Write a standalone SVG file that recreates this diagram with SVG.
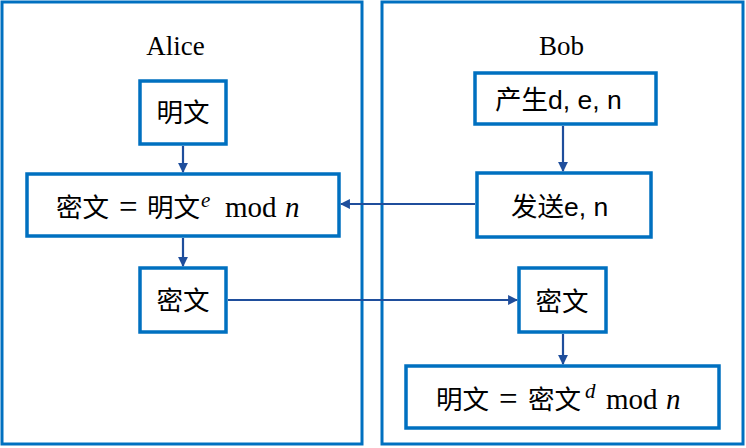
<svg xmlns="http://www.w3.org/2000/svg" width="746" height="448" viewBox="0 0 746 448">
<defs>
<style>
.frame{fill:#fff;stroke:#0070C0;stroke-width:3}
.box{fill:#fff;stroke:#0070C0;stroke-width:3.5}
.cjk{font-family:"Noto Sans CJK SC","Liberation Sans",sans-serif;font-size:26.5px;fill:#000}
.lat{font-family:"Liberation Sans","Noto Sans CJK SC",sans-serif;font-size:26.5px;fill:#000}
.ser{font-family:"Liberation Serif",serif;fill:#000}
.it{font-style:italic}
.conn{stroke:#1F4E9C;stroke-width:2.2;fill:none;marker-end:url(#ah)}
</style>
<marker id="ah" viewBox="0 0 10 10" refX="9" refY="5" markerWidth="4.5" markerHeight="4.5" orient="auto" markerUnits="strokeWidth">
<path d="M0,0 L10,5 L0,10 Z" fill="#1F4E9C"/>
</marker>
</defs>
<rect width="746" height="448" fill="#fff"/>
<g id="alice">
<rect class="frame" x="2" y="2" width="360" height="442"/>
<text class="ser" x="175.5" y="55" font-size="27" text-anchor="middle">Alice</text>
</g>
<g id="bob">
<rect class="frame" x="382" y="2" width="361" height="442"/>
<text class="ser" x="561.5" y="55" font-size="27" text-anchor="middle">Bob</text>
</g>
<g id="alice-plain">
<rect class="box" x="140" y="81" width="86" height="63"/>
<text class="cjk" x="183" y="122" text-anchor="middle">明文</text>
</g>
<g id="alice-encrypt">
<rect class="box" x="27" y="174" width="312" height="62"/>
<text y="217"><tspan class="cjk" x="56">密文</tspan><tspan class="ser" x="119" y="218" font-size="33">=</tspan><tspan class="cjk" x="147" y="217">明文</tspan><tspan class="ser it" x="201" y="207" font-size="21">e</tspan><tspan class="ser" x="225" y="217" font-size="29">mod</tspan><tspan class="ser it" x="285" font-size="29">n</tspan></text>
</g>
<g id="alice-cipher">
<rect class="box" x="140" y="268" width="86" height="64"/>
<text class="cjk" x="183" y="310" text-anchor="middle">密文</text>
</g>
<g id="bob-gen">
<rect class="box" x="475" y="73" width="181" height="51"/>
<text y="109"><tspan class="cjk" x="495">产生</tspan><tspan class="lat">d, e, n</tspan></text>
</g>
<g id="bob-send">
<rect class="box" x="477" y="173" width="174" height="64"/>
<text y="216"><tspan class="cjk" x="511">发送</tspan><tspan class="lat">e, n</tspan></text>
</g>
<g id="bob-cipher">
<rect class="box" x="519" y="268" width="87" height="64"/>
<text class="cjk" x="562" y="311" text-anchor="middle">密文</text>
</g>
<g id="bob-decrypt">
<rect class="box" x="406" y="366" width="313" height="62"/>
<text y="409"><tspan class="cjk" x="436">明文</tspan><tspan class="ser" x="499" y="410" font-size="33">=</tspan><tspan class="cjk" x="528" y="409">密文</tspan><tspan class="ser it" x="585" y="398" font-size="21">d</tspan><tspan class="ser" x="606" y="409" font-size="29">mod</tspan><tspan class="ser it" x="666" font-size="29">n</tspan></text>
</g>
<g id="connectors">
<line class="conn" x1="183" y1="146" x2="183" y2="172"/>
<line class="conn" x1="183" y1="238" x2="183" y2="266"/>
<line class="conn" x1="475" y1="204" x2="341" y2="204"/>
<line class="conn" x1="228" y1="300" x2="517" y2="300"/>
<line class="conn" x1="563" y1="126" x2="563" y2="171"/>
<line class="conn" x1="563" y1="334" x2="563" y2="364"/>
</g>
</svg>
